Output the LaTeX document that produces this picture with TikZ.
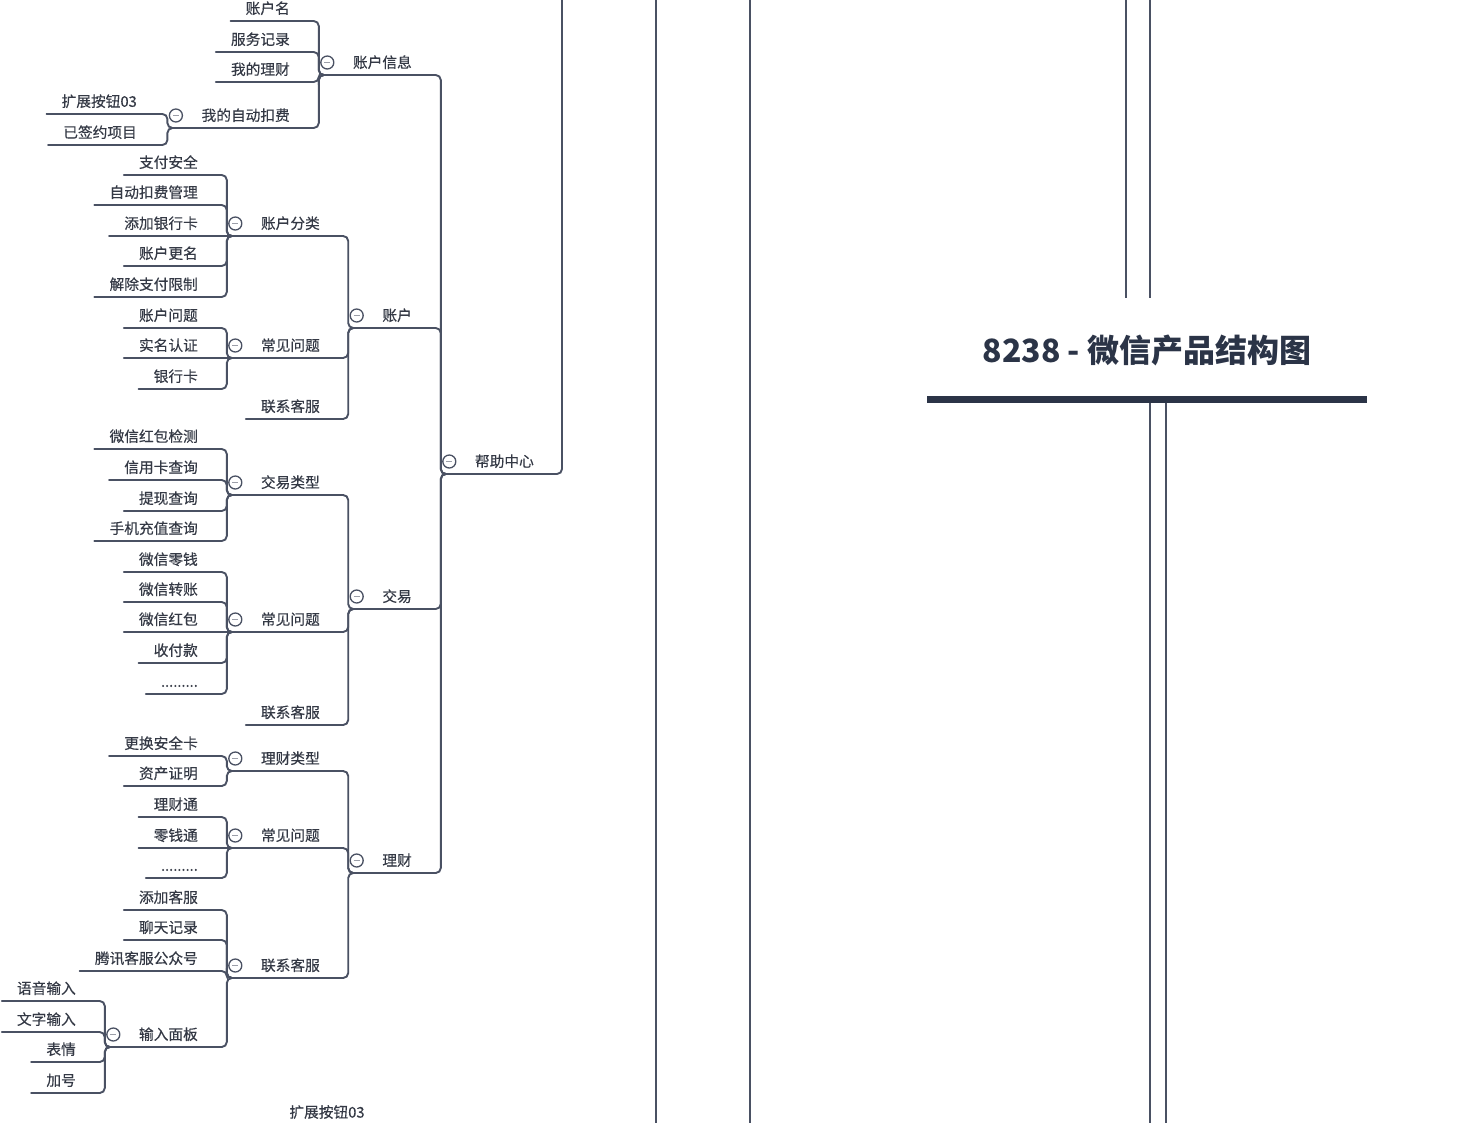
\documentclass[tikz,border=0pt]{standalone}
\usepackage{fontspec}
\setmainfont{Noto Sans CJK SC}
\newfontfamily\treefont[FakeBold=0.35]{Noto Sans CJK SC}
\definecolor{linec}{HTML}{4A5163}
\definecolor{txtc}{HTML}{343945}
\definecolor{titlec}{HTML}{2B3447}
\tikzset{
  uline/.style={draw=linec, line width=1.9pt, line cap=round},
  topic/.style={anchor=south east, inner xsep=15pt, inner ysep=4pt,
    text height=10pt, text depth=3pt, font=\treefont\fontsize{14.7}{16}\selectfont, text=txtc,
    append after command={(\tikzlastnode.south west) edge[uline] (\tikzlastnode.south east)}},
  conn/.style={draw=linec, line width=1.9pt, rounded corners=5pt},
  longline/.style={draw=linec, line width=2.6pt},
  midline/.style={draw=linec, line width=2pt},
  fold/.style={circle, draw=linec, line width=1.3pt, fill=white, minimum size=13pt, inner sep=0pt,
    path picture={\draw[linec!55, line width=1.3pt] ([xshift=-3pt]path picture bounding box.center) -- ([xshift=3pt]path picture bounding box.center);}},
  plain/.style={font=\treefont\fontsize{14.7}{16}\selectfont, text=txtc, inner sep=0pt},
  titletxt/.style={font=\fontsize{32}{36}\selectfont\bfseries, text=titlec, inner sep=0pt},
}
\newcommand\cnx[2]{\draw[conn] (#1.south east) -| ([xshift=-19pt]#2.south west) -- (#2.south west);}
\newcommand\cnxs[2]{\draw[conn] (#1.south east) -- (#2.south west);}
\newcommand\foldmark[2]{\node[fold] (#2) at ([xshift=-10.5pt,yshift=12.5pt]#1.south west) {};}
\begin{document}
\begin{tikzpicture}[x=1pt,y=-1pt]
\useasboundingbox (0,0) rectangle (1462,1122);
% long vertical connectors
\coordinate (v1t) at (656,-3); \coordinate (v1b) at (656,1125);
\coordinate (v2t) at (750,-3); \coordinate (v2b) at (750,1125);
\draw[longline] (v1t) -- (v1b);
\draw[longline] (v2t) -- (v2b);
% title area
\node[titletxt] (title) at (1147,350) {8238 - 微信产品结构图};
\node[fill=titlec, minimum width=440pt, minimum height=7pt, inner sep=0pt] (bar) at (1147,399) {};
\coordinate (u1t) at (1126,-3); \coordinate (u1b) at (1126,298);
\coordinate (u2t) at (1150,-3); \coordinate (u2b) at (1150,298);
\draw[midline] (u1t) -- (u1b);
\draw[midline] (u2t) -- (u2b);
\coordinate (d1) at (1150,1125); \coordinate (d2) at (1166,1125);
\draw[midline] (d1 |- bar.south) -- (d1);
\draw[midline] (d2 |- bar.south) -- (d2);
% ---------------- tree ----------------
\node[topic] (hc) at (549,474) {帮助中心};
\coordinate (hctop) at (562,-3);
\draw[conn] (hc.south east) -| (hctop);

\node[topic] (zhxx) at (427,75) {账户信息};
\node[topic] (zh) at (427,328) {账户};
\node[topic] (jy) at (427,609) {交易};
\node[topic] (lc) at (427,873) {理财};

\node[topic] (zhm) at (305,21) {账户名};
\node[topic] (fwjl) at (305,52) {服务记录};
\node[topic] (wdlc) at (305,82) {我的理财};
\node[topic] (zdkf) at (305,128) {我的自动扣费};

\node[topic] (kz1) at (152,114) {扩展按钮03};
\node[topic] (yqy) at (152,145) {已签约项目};

\node[topic] (zhfl) at (335,236) {账户分类};
\node[topic] (cjwta) at (335,358) {常见问题};
\node[topic] (lxkfa) at (335,419) {联系客服};

\node[topic] (zfaq) at (213,175) {支付安全};
\node[topic] (zdkfgl) at (213,205) {自动扣费管理};
\node[topic] (tjyhk) at (213,236) {添加银行卡};
\node[topic] (zhgm) at (213,266) {账户更名};
\node[topic] (jczf) at (213,297) {解除支付限制};

\node[topic] (zhwt) at (213,328) {账户问题};
\node[topic] (smrz) at (213,358) {实名认证};
\node[topic] (yhk) at (213,389) {银行卡};

\node[topic] (jylx) at (335,495) {交易类型};
\node[topic] (cjwtb) at (335,632) {常见问题};
\node[topic] (lxkfb) at (335,725) {联系客服};

\node[topic] (hbjc) at (213,449) {微信红包检测};
\node[topic] (xykcx) at (213,480) {信用卡查询};
\node[topic] (txcx) at (213,511) {提现查询};
\node[topic] (sjcz) at (213,541) {手机充值查询};

\node[topic] (wxlq) at (213,572) {微信零钱};
\node[topic] (wxzz) at (213,602) {微信转账};
\node[topic] (wxhb) at (213,632) {微信红包};
\node[topic] (sfk) at (213,663) {收付款};
\node[topic] (dotsa) at (213,694) {.........};

\node[topic] (lclx) at (335,771) {理财类型};
\node[topic] (cjwtc) at (335,848) {常见问题};
\node[topic] (lxkfc) at (335,978) {联系客服};

\node[topic] (hhaqk) at (213,756) {更换安全卡};
\node[topic] (zczm) at (213,786) {资产证明};

\node[topic] (lct) at (213,817) {理财通};
\node[topic] (lqt) at (213,848) {零钱通};
\node[topic] (dotsb) at (213,878) {.........};

\node[topic] (tjkf) at (213,910) {添加客服};
\node[topic] (ltjl) at (213,940) {聊天记录};
\node[topic] (txkf) at (213,971) {腾讯客服公众号};
\node[topic] (srmb) at (213,1047) {输入面板};

\node[topic] (yysr) at (91,1001) {语音输入};
\node[topic] (wzsr) at (91,1032) {文字输入};
\node[topic] (bq) at (91,1062) {表情};
\node[topic] (jh) at (91,1093) {加号};

\node[plain] (kz2) at (327,1112) {扩展按钮03};

% connectors
\cnx{zhxx}{hc} \cnx{zh}{hc} \cnx{jy}{hc} \cnx{lc}{hc}
\cnx{zhm}{zhxx} \cnx{fwjl}{zhxx} \cnx{wdlc}{zhxx} \cnx{zdkf}{zhxx}
\cnx{kz1}{zdkf} \cnx{yqy}{zdkf}
\cnx{zhfl}{zh} \cnx{cjwta}{zh} \cnx{lxkfa}{zh}
\cnx{zfaq}{zhfl} \cnx{zdkfgl}{zhfl} \cnxs{tjyhk}{zhfl} \cnx{zhgm}{zhfl} \cnx{jczf}{zhfl}
\cnx{zhwt}{cjwta} \cnxs{smrz}{cjwta} \cnx{yhk}{cjwta}
\cnx{jylx}{jy} \cnx{cjwtb}{jy} \cnx{lxkfb}{jy}
\cnx{hbjc}{jylx} \cnx{xykcx}{jylx} \cnx{txcx}{jylx} \cnx{sjcz}{jylx}
\cnx{wxlq}{cjwtb} \cnx{wxzz}{cjwtb} \cnxs{wxhb}{cjwtb} \cnx{sfk}{cjwtb} \cnx{dotsa}{cjwtb}
\cnx{lclx}{lc} \cnx{cjwtc}{lc} \cnx{lxkfc}{lc}
\cnx{hhaqk}{lclx} \cnx{zczm}{lclx}
\cnx{lct}{cjwtc} \cnxs{lqt}{cjwtc} \cnx{dotsb}{cjwtc}
\cnx{tjkf}{lxkfc} \cnx{ltjl}{lxkfc} \cnx{txkf}{lxkfc} \cnx{srmb}{lxkfc}
\cnx{yysr}{srmb} \cnx{wzsr}{srmb} \cnx{bq}{srmb} \cnx{jh}{srmb}

% collapse marks
\foldmark{hc}{f1}
\foldmark{zhxx}{f2}
\foldmark{zdkf}{f3}
\foldmark{zh}{f4}
\foldmark{zhfl}{f5}
\foldmark{cjwta}{f6}
\foldmark{jy}{f7}
\foldmark{jylx}{f8}
\foldmark{cjwtb}{f9}
\foldmark{lc}{f10}
\foldmark{lclx}{f11}
\foldmark{cjwtc}{f12}
\foldmark{lxkfc}{f13}
\foldmark{srmb}{f14}
\end{tikzpicture}
\end{document}
